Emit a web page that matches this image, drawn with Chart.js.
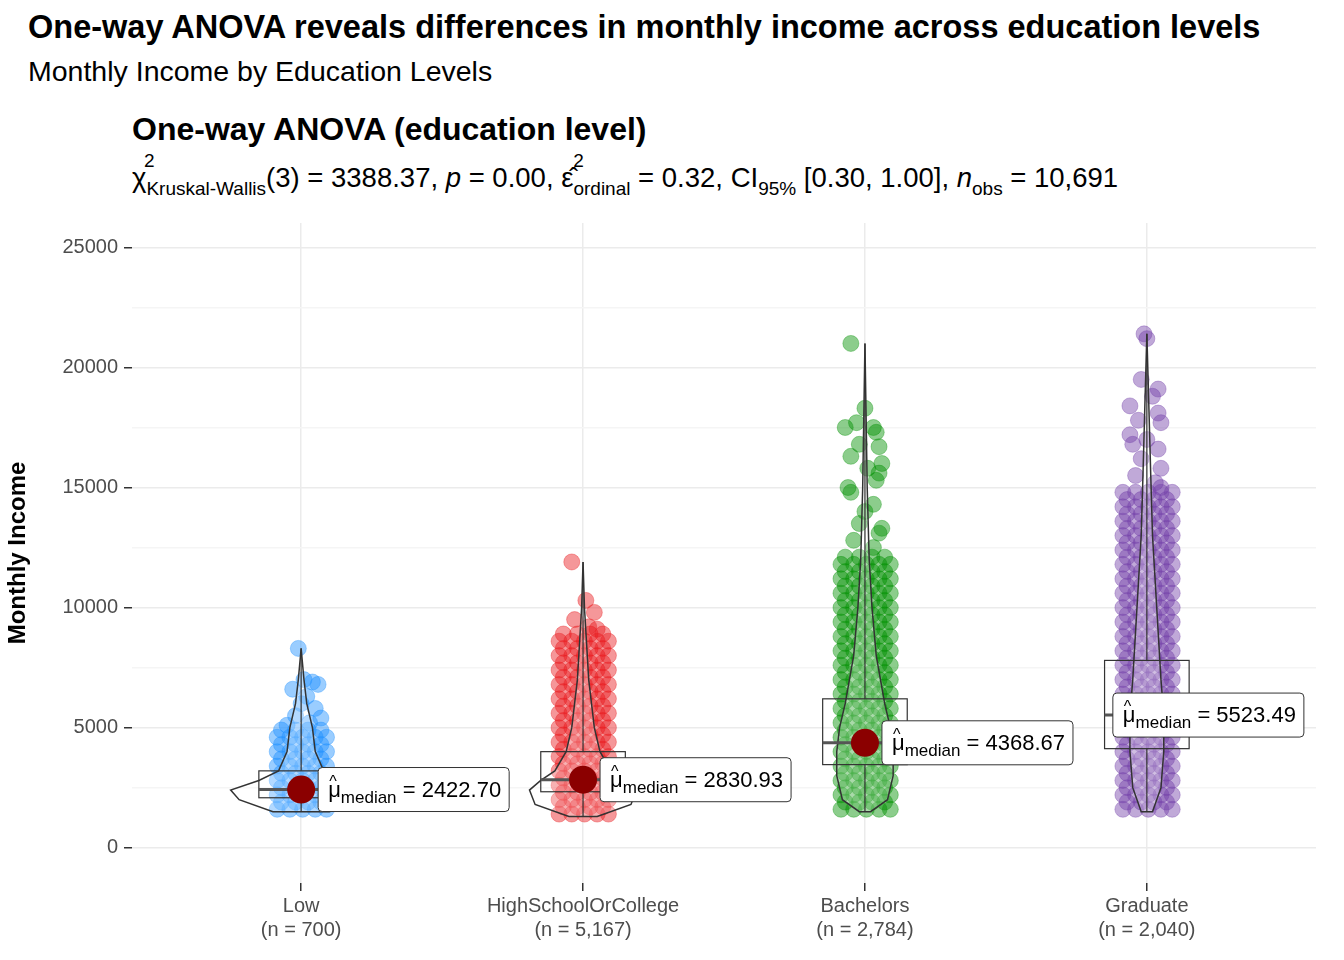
<!DOCTYPE html>
<html>
<head>
<meta charset="utf-8">
<script src="https://cdn.jsdelivr.net/npm/chart.js@4"></script>
<style>
  body { margin: 0; width: 1344px; height: 960px; background: #fff; font-family: "Liberation Sans", Arial, sans-serif; position: relative; overflow: hidden; }
  .t1 { position: absolute; left: 28px; top: 9px; font-size: 32.5px; font-weight: bold; }
  .t2 { position: absolute; left: 28px; top: 55px; font-size: 28.5px; }
  .t3 { position: absolute; left: 132px; top: 111px; font-size: 32px; font-weight: bold; }
  .t4 { position: absolute; left: 132px; top: 162px; font-size: 27.5px; white-space: nowrap; }
  .t4 sub { font-size: 19px; vertical-align: -8px; }
  .t4 .sp { position: relative; }
  .t4 .sp sup { position: absolute; left: 12px; top: -12px; font-size: 19px; }
  #wrap { position: absolute; left: 0; top: 205px; width: 1344px; height: 755px; }
</style>
</head>
<body>
<div class="t1">One-way ANOVA reveals differences in monthly income across education levels</div>
<div class="t2">Monthly Income by Education Levels</div>
<div class="t3">One-way ANOVA (education level)</div>
<div class="t4"><span class="sp">χ<sup>2</sup></span><sub>Kruskal-Wallis</sub>(3) = 3388.37, <i>p</i> = 0.00, <span class="sp">ε̂<sup>2</sup></span><sub>ordinal</sub> = 0.32, CI<sub>95%</sub> [0.30, 1.00], <i>n</i><sub>obs</sub> = 10,691</div>
<div id="wrap"><canvas id="c"></canvas></div>
<script>
(function () {
    'use strict';

    const categories = ['Low', 'HighSchoolOrCollege', 'Bachelors', 'Graduate'];
    const counts = ['700', '5,167', '2,784', '2,040'];
    const colors = ['#1E90FF', '#E8191C', '#009100', '#7440A8'];
    const medians = [2422.70, 2830.93, 4368.67, 5523.49];
    const q1 = [2080, 2330, 3460, 4125];
    const q3 = [3200, 4000, 6200, 7800];
    const whiskLow = [1500, 1300, 1500, 1500];
    const whiskHigh = [8300, 11900, 21000, 21400];
    const labelShift = [17, 17, 17, -34];

    const denseLow = [1600, 1900, 2200, 2500, 2800, 3100, 3400, 3700, 4000, 4300, 4600, 4900];
    const denseHS = [1400, 1700, 2000, 2300, 2600, 2900, 3200, 3500, 3800, 4100, 4400, 4700, 5000, 5300, 5600, 5900, 6200, 6500, 6800, 7100, 7400, 7700, 8000, 8300, 8600, 8900];
    const denseBach = [1600, 1900, 2200, 2500, 2800, 3100, 3400, 3700, 4000, 4300, 4600, 4900, 5200, 5500, 5800, 6100, 6400, 6700, 7000, 7300, 7600, 7900, 8200, 8500, 8800, 9100, 9400, 9700, 10000, 10300, 10600, 10900, 11200, 11500, 11800, 12100];
    const denseGrad = [1600, 1900, 2200, 2500, 2800, 3100, 3400, 3700, 4000, 4300, 4600, 4900, 5200, 5500, 5800, 6100, 6400, 6700, 7000, 7300, 7600, 7900, 8200, 8500, 8800, 9100, 9400, 9700, 10000, 10300, 10600, 10900, 11200, 11500, 11800, 12100, 12400, 12700, 13000, 13300, 13600, 13900, 14200, 14500, 14800];
    const denseColsA = [-0.085, -0.04, 0.005, 0.05, 0.09];
    const denseColsB = [-0.07, -0.02, 0.025, 0.07];
    const sparseLow = [[0.03, 5200], [-0.02, 5500], [0.05, 5800], [0.0, 6000], [0.02, 6300], [-0.03, 6600], [0.06, 6800], [0.01, 7000], [0.04, 6900], [-0.01, 8300], [0.07, 5400], [-0.05, 5100]];
    const sparseHS = [[0.02, 9200], [-0.03, 9500], [0.04, 9800], [0.01, 10300], [-0.04, 11900], [0.05, 9100]];
    const sparseBach = [[0.03, 12500], [-0.04, 12800], [0.05, 13100], [-0.02, 13500], [0.06, 13300], [0.0, 14000], [0.03, 14300], [-0.05, 14800], [0.04, 15300], [0.01, 15800], [-0.06, 15000], [0.05, 15600], [-0.07, 17500], [-0.03, 17700], [0.03, 17500], [0.05, 16700], [0.06, 16000], [0.0, 18300], [-0.02, 16800], [-0.05, 16300], [-0.05, 21000], [0.04, 17300]];
    const sparseGrad = [[0.03, 15200], [-0.04, 15500], [0.05, 15800], [-0.02, 16200], [0.04, 16600], [-0.05, 16800], [0.0, 17000], [0.05, 17700], [-0.03, 17800], [0.04, 18100], [-0.06, 18400], [0.02, 18800], [0.04, 19100], [-0.02, 19500], [0.05, 15000], [-0.06, 17200], [0.0, 21200], [-0.01, 21400]];

    const violinLevels = [
        [1500, 2000, 2400, 2800, 3200, 4000, 5000, 6000, 7000, 8300],
        [1300, 1800, 2400, 2800, 3200, 4000, 5000, 6000, 7000, 8000, 9000, 10000, 11900],
        [1500, 2000, 3000, 4000, 5000, 6000, 8000, 10000, 12000, 15000, 18000, 21000],
        [1500, 2500, 4000, 5500, 7000, 9000, 11000, 13000, 15000, 18000, 21400]
    ];
    const violinWidths = [
        [0.1, 0.22, 0.25, 0.15, 0.08, 0.05, 0.04, 0.02, 0.01, 0],
        [0.05, 0.17, 0.19, 0.15, 0.1, 0.06, 0.04, 0.03, 0.02, 0.015, 0.01, 0.005, 0],
        [0.02, 0.08, 0.1, 0.1, 0.09, 0.07, 0.04, 0.025, 0.015, 0.008, 0.004, 0],
        [0.02, 0.05, 0.06, 0.06, 0.05, 0.04, 0.03, 0.02, 0.015, 0.008, 0]
    ];

    const yTicks = [0, 5000, 10000, 15000, 20000, 25000];

    const denseSets = [denseLow, denseHS, denseBach, denseGrad];
    const sparseSets = [sparseLow, sparseHS, sparseBach, sparseGrad];
    const FONT = '"Liberation Sans", Arial, sans-serif';

    function alpha(hex, a) {
        const n = parseInt(hex.slice(1), 16);
        return `rgba(${n >> 16}, ${(n >> 8) & 255}, ${n & 255}, ${a})`;
    }

    const datasets = categories.map((cat, i) => {
        const pts = [];
        denseSets[i].forEach((v, k) => {
            const cols = k % 2 === 0 ? denseColsA : denseColsB;
            cols.forEach((dx) => pts.push({ x: i + 1 + dx, y: v }));
        });
        sparseSets[i].forEach((p) => pts.push({ x: i + 1 + p[0], y: p[1] }));
        return {
            label: cat,
            data: pts,
            pointRadius: 8,
            pointBackgroundColor: alpha(colors[i], 0.45),
            pointBorderColor: alpha(colors[i], 0.35),
            pointBorderWidth: 1
        };
    });

    const overlay = {
        id: 'overlay',
        afterDatasetsDraw(chart) {
            const ctx = chart.ctx;
            const xs = chart.scales.x;
            const ys = chart.scales.y;
            ctx.save();
            categories.forEach((cat, i) => {
                const c = i + 1;
                const lv = violinLevels[i];
                const wd = violinWidths[i];
                ctx.beginPath();
                lv.forEach((v, k) => {
                    const px = xs.getPixelForValue(c + wd[k]);
                    const py = ys.getPixelForValue(v);
                    if (k === 0) ctx.moveTo(px, py); else ctx.lineTo(px, py);
                });
                for (let k = lv.length - 1; k >= 0; k--) {
                    ctx.lineTo(xs.getPixelForValue(c - wd[k]), ys.getPixelForValue(lv[k]));
                }
                ctx.closePath();
                ctx.fillStyle = 'rgba(255,255,255,0.25)';
                ctx.fill();
                ctx.strokeStyle = '#333';
                ctx.lineWidth = 1.5;
                ctx.stroke();
                const bl = xs.getPixelForValue(c - 0.15);
                const br = xs.getPixelForValue(c + 0.15);
                const cx = xs.getPixelForValue(c);
                const t = ys.getPixelForValue(q3[i]);
                const b = ys.getPixelForValue(q1[i]);
                ctx.strokeStyle = '#333';
                ctx.lineWidth = 1.2;
                ctx.strokeRect(bl, t, br - bl, b - t);
                ctx.beginPath();
                ctx.moveTo(cx, t);
                ctx.lineTo(cx, ys.getPixelForValue(whiskHigh[i]));
                ctx.moveTo(cx, b);
                ctx.lineTo(cx, ys.getPixelForValue(whiskLow[i]));
                ctx.stroke();
                const my = ys.getPixelForValue(medians[i]);
                ctx.lineWidth = 3;
                ctx.strokeStyle = '#555';
                ctx.beginPath();
                ctx.moveTo(bl, my);
                ctx.lineTo(br, my);
                ctx.stroke();
                ctx.beginPath();
                ctx.arc(cx, my, 14, 0, Math.PI * 2);
                ctx.fillStyle = '#8B0000';
                ctx.fill();
                // label
                const lx = cx + labelShift[i];
                const val = medians[i].toFixed(2);
                ctx.font = '17px ' + FONT;
                const wSub = ctx.measureText('median').width;
                ctx.font = '22px ' + FONT;
                const wMu = ctx.measureText('μ').width;
                const wVal = ctx.measureText(' = ' + val).width;
                const w = 10 + wMu + wSub + wVal + 8;
                const h = 44;
                ctx.beginPath();
                ctx.roundRect(lx, my - h / 2, w, h, 4);
                ctx.fillStyle = '#fff';
                ctx.fill();
                ctx.strokeStyle = '#333';
                ctx.lineWidth = 1;
                ctx.stroke();
                ctx.fillStyle = '#000';
                ctx.textBaseline = 'alphabetic';
                ctx.fillText('μ', lx + 10, my + 7);
                ctx.font = '16px ' + FONT;
                ctx.fillText('^', lx + 11, my - 3);
                ctx.font = '17px ' + FONT;
                ctx.fillText('median', lx + 10 + wMu, my + 13);
                ctx.font = '22px ' + FONT;
                ctx.fillText(' = ' + val, lx + 10 + wMu + wSub, my + 7);
            });
            ctx.restore();
        }
    };

    new Chart(document.getElementById('c'), {
        type: 'scatter',
        data: { datasets },
        plugins: [overlay],
        options: {
            responsive: true,
            maintainAspectRatio: false,
            animation: false,
            layout: { padding: { top: 6, right: 28, left: 0, bottom: 0 } },
            plugins: { legend: { display: false }, tooltip: { enabled: false } },
            scales: {
                x: {
                    type: 'linear', min: 0.4, max: 4.6,
                    afterBuildTicks(axis) { axis.ticks = categories.map((c, i) => ({ value: i + 1 })); },
                    afterFit(axis) { axis.height = 77; },
                    ticks: {
                        autoSkip: false, maxRotation: 0, color: '#4D4D4D',
                        font: { size: 20, family: FONT },
                        callback(v) { const i = Math.round(v) - 1; return [categories[i], `(n = ${counts[i]})`]; }
                    },
                    grid: { color: '#EBEBEB', lineWidth: 1.5, tickLength: 8, tickColor: '#333', drawTicks: true },
                    border: { display: false }
                },
                y: {
                    min: -1470, max: 26016,
                    afterBuildTicks(axis) {
                        const t = [];
                        yTicks.forEach((v, k) => { t.push({ value: v }); if (k < yTicks.length - 1) t.push({ value: v + 2500 }); });
                        axis.ticks = t;
                    },
                    afterFit(axis) { axis.width = 132; },
                    ticks: {
                        color: '#4D4D4D', padding: 6,
                        font: { size: 20, family: FONT },
                        callback(v) { return yTicks.includes(v) ? String(v) : ''; }
                    },
                    grid: {
                        color: (c) => (c.tick && yTicks.includes(c.tick.value) ? '#EBEBEB' : '#F5F5F5'),
                        lineWidth: 1.5, tickLength: 8, tickColor: (c) => (c.tick && yTicks.includes(c.tick.value) ? '#333' : 'rgba(0,0,0,0)')
                    },
                    border: { display: false },
                    title: { display: true, text: 'Monthly Income', color: '#000', font: { size: 24, weight: 'bold', family: FONT } }
                }
            }
        }
    });
})();
</script>
</body>
</html>
